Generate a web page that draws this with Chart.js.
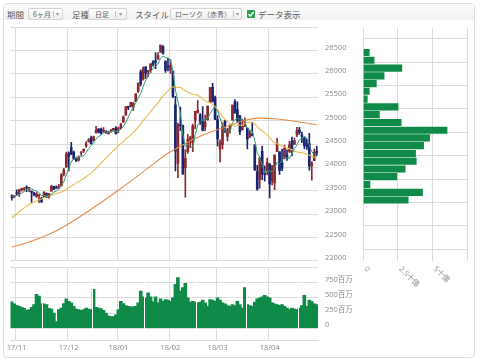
<!DOCTYPE html>
<html lang="ja">
<head>
<meta charset="utf-8">
<title>NYダウ 6ヶ月 日足</title>
<script src="https://cdn.jsdelivr.net/npm/chart.js@4.4.1/dist/chart.umd.min.js"></script>
<style>
  html, body { margin: 0; padding: 0; background: #fff; }
  #widget { position: relative; width: 480px; height: 364px; overflow: hidden;
            font-family: 'Noto Sans CJK JP', 'Noto Sans', sans-serif; }
  .frame { position: absolute; left: 3px; top: 3px; width: 470px; height: 353px;
           border: 1px solid #dedede; border-radius: 4px; }
  .head { position: absolute; left: 4px; top: 4px; width: 470px; height: 16px;
          border-radius: 3px 3px 0 0; background: linear-gradient(#fbfbfb, #f1f1f1); }
  .lbl { position: absolute; top: 8px; height: 12px; line-height: 12px; font-size: 8.5px; color: #5a5a5a; white-space: nowrap; }
  .sel { position: absolute; top: 8px; height: 10px; border: 1px solid #d4d4d4; border-radius: 2px;
         background: linear-gradient(#fefefe, #eeeeee); font-size: 7px; line-height: 10px; color: #666; white-space: nowrap; }
  .sel .txt { position: absolute; left: 4px; top: 0; }
  .sel .sep { position: absolute; top: 2px; width: 1px; height: 6px; background: #c4c4c4; }
  .sel .arw { position: absolute; top: 0; font-size: 6px; color: #999; }
  .chk { position: absolute; left: 247px; top: 10px; width: 8px; height: 8px; border-radius: 1px; background: #2f9f52; }
  .chk svg { position: absolute; left: 0; top: 0; }
  canvas { position: absolute; }
</style>
</head>
<body>
<div id="widget">
  <div class="frame"></div>
  <div class="head"></div>

  <span class="lbl" style="left:7px">期間</span>
  <div class="sel" style="left:28px;width:33px"><span class="txt">6ヶ月</span><span class="sep" style="left:24px"></span><span class="arw" style="left:27px">▾</span></div>
  <span class="lbl" style="left:72px">足種</span>
  <div class="sel" style="left:88px;width:37px"><span class="txt" style="left:6px">日足</span><span class="sep" style="left:26px"></span><span class="arw" style="left:30px">▾</span></div>
  <span class="lbl" style="left:135px">スタイル</span>
  <div class="sel" style="left:170px;width:70px"><span class="txt">ローソク（赤青）</span><span class="sep" style="left:62px"></span><span class="arw" style="left:65px">▾</span></div>
  <div class="chk"><svg width="8" height="8" viewBox="0 0 8 8"><path d="M1.5 4.2 L3.3 6 L6.6 2" stroke="#fff" stroke-width="1.3" fill="none"/></svg></div>
  <span class="lbl" style="left:258px">データ表示</span>

  <canvas id="priceChart" width="362" height="244" style="left:0;top:20px"></canvas>
  <canvas id="volumeChart" width="362" height="95" style="left:0;top:262px"></canvas>
  <canvas id="profileChart" width="118" height="282" style="left:356px;top:20px"></canvas>
</div>

<script>
// --- Daily data 17/10/30 - 18/04/27 ---
const dates = [
  '17/10/30','17/10/31',
  '17/11/01','17/11/02','17/11/03','17/11/06','17/11/07','17/11/08','17/11/09','17/11/10','17/11/13','17/11/14',
  '17/11/15','17/11/16','17/11/17','17/11/20','17/11/21','17/11/22','17/11/24','17/11/27','17/11/28','17/11/29','17/11/30',
  '17/12/01','17/12/04','17/12/05','17/12/06','17/12/07','17/12/08','17/12/11','17/12/12','17/12/13','17/12/14',
  '17/12/15','17/12/18','17/12/19','17/12/20','17/12/21','17/12/22','17/12/26','17/12/27','17/12/28','17/12/29',
  '18/01/02','18/01/03','18/01/04','18/01/05','18/01/08','18/01/09','18/01/10','18/01/11','18/01/12','18/01/16',
  '18/01/17','18/01/18','18/01/19','18/01/22','18/01/23','18/01/24','18/01/25','18/01/26','18/01/29','18/01/30','18/01/31',
  '18/02/01','18/02/02','18/02/05','18/02/06','18/02/07','18/02/08','18/02/09','18/02/12','18/02/13','18/02/14',
  '18/02/15','18/02/16','18/02/20','18/02/21','18/02/22','18/02/23','18/02/26','18/02/27','18/02/28',
  '18/03/01','18/03/02','18/03/05','18/03/06','18/03/07','18/03/08','18/03/09','18/03/12','18/03/13','18/03/14',
  '18/03/15','18/03/16','18/03/19','18/03/20','18/03/21','18/03/22','18/03/23','18/03/26','18/03/27','18/03/28','18/03/29',
  '18/04/02','18/04/03','18/04/04','18/04/05','18/04/06','18/04/09','18/04/10','18/04/11','18/04/12','18/04/13',
  '18/04/16','18/04/17','18/04/18','18/04/19','18/04/20','18/04/23','18/04/24','18/04/25','18/04/26','18/04/27'
];

const opens = [
  23405,23370,23442,23432,23524,23532,23559,23550,23489,23433,
  23375,23394,23334,23348,23446,23361,23492,23591,23573,23560,
  23604,23852,24001,24306,24424,24322,24167,24158,24312,24352,
  24452,24554,24629,24582,24739,24825,24820,24775,24765,24716,
  24767,24800,24849,24810,24851,24965,25115,25309,25313,25291,
  25406,25635,26051,25887,26154,26048,26072,26263,26282,26316,
  26468,26585,26274,26152,26083,26062,25337,24085,24917,24902,
  23992,24338,24540,24535,25004,25165,25124,24979,24866,25018,
  25388,25713,25495,25025,24391,24490,24995,24663,24814,25012,
  25401,25236,25101,24802,24877,24843,24640,24714,24481,23908,
  23740,24345,23871,23930,24076,23713,23664,24335,24333,24096,
  24208,24270,24324,24564,24491,24696,24796,24695,24648,24505,
  24509,24034,24141,24346
];
const highs = [
  23406,23400,23517,23531,23558,23569,23602,23565,23492,23468,
  23460,23415,23355,23483,23446,23445,23618,23596,23602,23638,
  23867,23978,24328,24330,24534,24350,24197,24244,24330,24399,
  24552,24618,24669,24669,24876,24825,24839,24850,24784,24777,
  24812,24838,24872,24864,24941,25105,25300,25312,25400,25391,
  25575,25803,26087,26154,26154,26072,26215,26287,26459,26458,
  26617,26609,26275,26338,26306,26062,25520,24946,25293,24904,
  24382,24705,24668,24925,25201,25432,25154,25302,25121,25310,
  25709,25800,25525,25107,24588,24955,25008,24838,24916,25336,
  25449,25402,25115,25034,25061,24843,24798,24962,24481,24044,
  24205,24453,24035,24199,24076,24040,24266,24623,24333,24392,
  24478,24374,24559,24646,24628,24859,24858,24757,24648,24601,
  24726,24125,24397,24452
];
const lows = [
  23296,23343,23406,23377,23487,23507,23477,23481,23246,23390,
  23357,23242,23242,23348,23353,23338,23492,23526,23544,23542,
  23602,23815,24001,23922,24273,24170,24122,24133,24253,24317,
  24429,24541,24498,24559,24739,24736,24709,24749,24728,24716,
  24751,24779,24713,24742,24825,24965,25115,25235,25294,25221,
  25406,25601,25744,25868,25905,25943,26030,26168,26116,26313,
  26468,26425,26032,26066,26014,25490,23923,23778,24786,23849,
  23360,24299,24421,24337,24828,25165,24917,24780,24779,25018,
  25388,25403,25024,24459,24117,24393,24741,24565,24732,25012,
  25155,24955,24698,24802,24877,24395,24640,24673,23928,23510,
  23552,23736,23705,23838,23344,23621,23523,24335,23849,23931,
  24178,24146,24324,24245,24491,24658,24706,24533,24401,24385,
  23941,23723,24141,24256
];
const closes = [
  23349,23377,23435,23516,23539,23548,23557,23563,23462,23422,
  23440,23409,23271,23458,23358,23430,23591,23526,23558,23581,
  23837,23941,24272,24232,24290,24181,24141,24211,24329,24386,
  24505,24585,24509,24652,24792,24755,24727,24782,24754,24746,
  24774,24838,24719,24824,24923,25075,25296,25283,25386,25369,
  25575,25803,25793,26116,26018,26072,26215,26211,26252,26393,
  26617,26439,26077,26149,26187,25521,24346,24913,24893,23860,
  24191,24601,24640,24893,25200,25219,24965,24798,24962,25310,
  25709,25410,25029,24609,24538,24875,24884,24801,24895,25336,
  25179,25007,24758,24874,24947,24611,24727,24682,23958,23533,
  24203,23858,23848,24103,23644,24033,24264,24505,23933,23979,
  24408,24189,24483,24360,24573,24787,24748,24665,24463,24449,
  24024,24084,24322,24311
];

// 出来高 (百万)
const volumes = [
  433,400,378,361,344,328,294,306,344,389,
  556,528,406,400,389,328,317,250,111,306,
  333,406,483,444,417,361,317,306,294,306,
  333,317,306,639,344,333,322,294,250,206,
  194,194,222,306,444,406,372,361,350,350,
  361,417,611,517,500,583,517,433,517,417,
  483,444,472,461,444,500,722,833,611,667,
  739,500,428,444,428,417,428,461,417,361,
  472,461,444,500,461,417,400,372,361,389,
  372,444,389,333,667,389,372,361,428,483,
  500,517,539,517,500,417,400,389,378,389,
  361,333,306,333,317,306,333,372,539,361,
  461,439,400,389
];

// 移動平均線
const ma5 = [
  23391,23378,23399,23422,23443,23483,23519,23545,23534,23510,
  23489,23459,23401,23400,23387,23385,23422,23473,23493,23537,
  23619,23689,23838,23973,24114,24183,24223,24211,24230,24250,
  24314,24403,24463,24527,24609,24659,24687,24742,24762,24753,
  24757,24779,24766,24780,24816,24876,24967,25080,25193,25282,
  25382,25483,25585,25731,25861,25960,26043,26126,26154,26229,
  26338,26382,26356,26335,26294,26075,25656,25423,25172,24707,
  24441,24492,24437,24437,24705,24911,24983,25015,25029,25051,
  25149,25238,25284,25213,25059,24892,24787,24741,24799,24958,
  25019,25044,25035,25031,24953,24839,24783,24768,24585,24302,
  24221,24047,23880,23909,23931,23897,23978,24110,24076,24143,
  24218,24203,24198,24284,24403,24478,24590,24627,24647,24622,
  24470,24337,24268,24238
];
const ma25 = [
  22913,22957,23001,23046,23092,23131,23168,23204,23231,23257,
  23284,23307,23323,23348,23368,23386,23410,23425,23441,23451,
  23473,23493,23531,23564,23598,23632,23662,23693,23726,23760,
  23798,23839,23877,23925,23979,24032,24085,24145,24197,24253,
  24306,24356,24404,24455,24508,24558,24612,24652,24699,24742,
  24797,24864,24927,24999,25064,25127,25192,25260,25324,25388,
  25462,25531,25583,25639,25696,25726,25706,25714,25717,25674,
  25639,25611,25585,25566,25559,25545,25511,25471,25425,25397,
  25382,25350,25303,25237,25163,25093,25031,24980,24930,24896,
  24882,24909,24902,24902,24945,24962,24967,24969,24931,24865,
  24824,24780,24742,24707,24641,24574,24528,24507,24480,24457,
  24439,24411,24398,24377,24346,24331,24320,24317,24300,24280,
  24257,24231,24217,24231
];
const ma75Dates = ['17/10/30','17/11/10','17/11/21','17/11/30','17/12/11','17/12/20','18/01/02','18/01/10','18/01/22','18/01/31',
  '18/02/06','18/02/14','18/02/26','18/03/07','18/03/16','18/03/26','18/04/04','18/04/16','18/04/27'];
const ma75Values = [22286,22440,22590,22760,22996,23246,23508,23743,24027,24300,
  24419,24596,24752,24880,25008,25055,25040,24987,24916];

// 価格帯別出来高 (十億)
const profilePrices = [26460,26295,26125,25960,25795,25630,25460,25295,25130,24960,
  24795,24630,24465,24295,24130,23965,23800,23630,23465,23300];
const profileVolumes = [0.43,0.78,2.78,1.50,0.94,0.43,0.29,2.51,1.16,2.73,
  6.04,4.78,4.35,3.77,3.82,3.02,2.42,0.48,4.27,3.24];

// tick labels
const volumeTicks = [0, 250, 500, 750, 1000];
const profileTicks = [0, 2.5, 5];
const profileTickLabels = ['0', '2.5十億', '5十億'];
const volumeSplitDates = ['17/11/16','17/12/15','18/01/18','18/02/16','18/03/19','18/04/18'];

// --- Styles ---
const GRID = '#dcdcdc';
const UP = '#8a2a2e';
const DOWN = '#1b2472';
const GREEN = '#0f8a48';

Chart.defaults.font.family = "'Open Sans', 'Noto Sans CJK JP', sans-serif";
Chart.defaults.font.size = 7.5;
Chart.defaults.color = '#8a8a8a';

const isMonthStart = i => i > 0 && i < dates.length && dates[i].slice(0, 5) !== dates[i - 1].slice(0, 5);
const monthGrid = ctx => (isMonthStart(ctx.index) || ctx.index === dates.length) ? GRID : 'rgba(0,0,0,0)';
const noPad = s => { s.paddingTop = 0; s.paddingBottom = 0; s.paddingLeft = 0; s.paddingRight = 0; };

const common = {
    responsive: false,
    animation: false,
    events: [],
    plugins: { legend: { display: false }, tooltip: { enabled: false } }
};

// --- Candles + moving averages ---
const candleColors = closes.map((c, i) => c >= opens[i] ? UP : DOWN);
const wicks = dates.map((d, i) => [lows[i], highs[i]]);
const bodies = dates.map((d, i) => [opens[i], closes[i]]);

new Chart(document.getElementById('priceChart'), {
    type: 'bar',
    data: {
        labels: dates,
        datasets: [
            { type: 'line', label: '5日', data: ma5, borderColor: '#2f9a72', borderWidth: 1, pointRadius: 0, order: 0 },
            { type: 'line', label: '25日', data: ma25, borderColor: '#e9bc50', borderWidth: 1.1, pointRadius: 0, order: 0 },
            { type: 'line', label: '75日', data: ma75Dates.map((d, i) => ({ x: d, y: ma75Values[i] })),
              borderColor: '#e48c4c', borderWidth: 1.1, pointRadius: 0, cubicInterpolationMode: 'monotone', order: 0 },
            { label: 'ヒゲ', data: wicks, backgroundColor: candleColors, barThickness: 1, grouped: false, order: 2 },
            { label: '実体', data: bodies, backgroundColor: candleColors, barThickness: 2, minBarLength: 1, grouped: false, order: 1 }
        ]
    },
    options: {
        ...common,
        layout: { padding: { left: 10.5, top: 7.3, right: 0, bottom: 3.3 } },
        scales: {
            x: {
                offset: true,
                grid: { offset: true, color: monthGrid, drawTicks: false },
                border: { display: false },
                ticks: { display: false, autoSkip: false },
                afterFit: s => { s.height = 0; noPad(s); }
            },
            y: {
                position: 'right', min: 22000, max: 27000,
                grid: { color: GRID, drawTicks: false },
                border: { display: false },
                ticks: { stepSize: 500, padding: 7, labelOffset: -3, callback: v => v === 27000 ? '' : String(v) },
                afterFit: s => { s.width = 44; noPad(s); }
            }
        }
    }
});

// --- Volume ---
new Chart(document.getElementById('volumeChart'), {
    type: 'bar',
    data: {
        labels: dates,
        datasets: [{ label: '出来高', data: volumes, backgroundColor: GREEN, barThickness: 3 }]
    },
    options: {
        ...common,
        layout: { padding: { left: 10.5, top: 5.3, right: 0, bottom: 0 } },
        scales: {
            x: {
                offset: true,
                grid: { offset: true, color: monthGrid, drawTicks: false },
                border: { color: GRID },
                ticks: {
                    autoSkip: false, maxRotation: 0, minRotation: 0, padding: 3,
                    callback: (v, i) => isMonthStart(i) ? dates[i].slice(0, 5) : ''
                },
                afterFit: s => { s.height = 17; noPad(s); }
            },
            split: {
                type: 'category', position: 'bottom', offset: true,
                grid: {
                    offset: true, z: 1, drawTicks: false,
                    color: ctx => volumeSplitDates.includes(dates[ctx.index]) ? '#ffffff' : 'rgba(0,0,0,0)'
                },
                border: { display: false },
                ticks: { display: false, autoSkip: false },
                afterFit: s => { s.height = 0; noPad(s); }
            },
            y: {
                position: 'right', min: -192, max: 1000,
                afterBuildTicks: s => { s.ticks = volumeTicks.map(v => ({ value: v })); },
                grid: { color: GRID, drawTicks: false },
                border: { display: false },
                ticks: { padding: 7, labelOffset: -3, callback: v => v === 1000 ? '' : (v === 0 ? '0' : v + '百万') },
                afterFit: s => { s.width = 44; noPad(s); }
            }
        }
    }
});

// --- Volume by price ---
const slantTicks = {
    id: 'slantTicks',
    afterDraw(chart) {
        const { ctx, chartArea, scales: { x } } = chart;
        ctx.save();
        ctx.font = "7.5px 'Open Sans', 'Noto Sans CJK JP', sans-serif";
        ctx.fillStyle = '#8a8a8a';
        ctx.textAlign = 'left';
        ctx.textBaseline = 'middle';
        profileTicks.forEach((v, i) => {
            ctx.save();
            ctx.translate(x.getPixelForValue(v) + 2, chartArea.bottom + 7);
            ctx.rotate(Math.PI / 4);
            ctx.fillText(profileTickLabels[i], 0, 0);
            ctx.restore();
        });
        ctx.restore();
    }
};

new Chart(document.getElementById('profileChart'), {
    type: 'bar',
    data: {
        datasets: [{
            label: '価格帯別出来高',
            data: profilePrices.map((p, i) => ({ x: profileVolumes[i], y: p })),
            backgroundColor: GREEN,
            barThickness: 6.5
        }]
    },
    options: {
        ...common,
        indexAxis: 'y',
        layout: { padding: { left: 7.3, top: 7.3, right: 6.7, bottom: 0 } },
        scales: {
            x: {
                type: 'linear', min: 0, max: 7.5,
                ticks: { stepSize: 2.5, display: false },
                grid: { color: GRID, drawTicks: false },
                border: { display: false },
                afterFit: s => { s.height = 41.3; noPad(s); }
            },
            y: {
                type: 'linear', min: 22000, max: 27000, offset: false,
                ticks: { stepSize: 500, display: false },
                grid: { color: GRID, drawTicks: false },
                border: { display: false },
                afterFit: s => { s.width = 0; noPad(s); }
            }
        }
    },
    plugins: [slantTicks]
});
</script>
</body>
</html>
